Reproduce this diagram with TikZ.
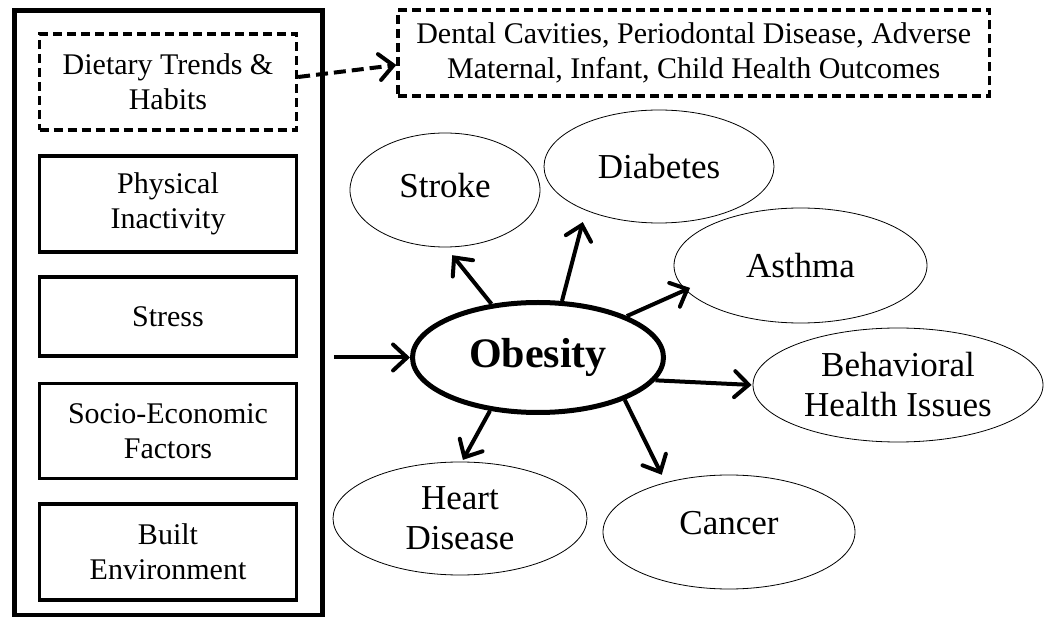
\documentclass[tikz,border=0pt]{standalone}
\usepackage{fontspec}
\setmainfont{Liberation Serif}
\usetikzlibrary{arrows.meta,shapes.geometric}
\begin{document}
\begin{tikzpicture}[x=1pt,y=-1pt,
  leftbox/.style={draw, line width=3.3pt, minimum width=257pt, inner sep=0pt, align=center, font=\fontsize{30}{35}\selectfont},
  dashbox/.style={leftbox, dash pattern=on 9pt off 5pt},
  outcome/.style={draw, ellipse, line width=0.8pt, inner sep=0pt, align=center, font=\fontsize{35}{40}\selectfont},
  arr/.style={line width=4pt, -{Straight Barb[length=14pt,width=26pt,line cap=round]}},
]
\useasboundingbox (0,0) rectangle (1050,617);

% left panel
\node[draw, line width=4.5pt, minimum width=308pt, minimum height=604.5pt, inner sep=0pt] (outer) at (168.6,312.75) {};
\node[dashbox, minimum height=96pt] (diet) at (168,82) {Dietary Trends \&\\Habits};
\node[leftbox, minimum height=96pt] (phys) at (168,204) {Physical\\Inactivity};
\node[leftbox, minimum height=79pt] (stress) at (168,316.5) {Stress};
\node[leftbox, minimum height=95.4pt] (socio) at (168,431) {Socio-Economic\\Factors};
\node[leftbox, minimum height=96pt] (built) at (168,552) {Built\\Environment};

% top box
\node[draw, line width=3.3pt, dash pattern=on 9pt off 5pt, minimum width=591.5pt, minimum height=86pt, inner sep=0pt, align=center, font=\fontsize{30}{35}\selectfont] (top) at (693.75,53) {Dental Cavities, Periodontal Disease, Adverse\\Maternal, Infant, Child Health Outcomes};

% center
\node[draw, ellipse, line width=5pt, minimum width=251pt, minimum height=110pt, inner sep=0pt, font=\fontsize{42}{48}\selectfont\bfseries] (ob) at (538,357.5) {Obesity};

% outcomes
\node[outcome, minimum width=190pt, minimum height=114pt, text depth=10pt] (stroke) at (445,190) {Stroke};
\node[outcome, minimum width=230pt, minimum height=113pt] (diab) at (659,166.5) {Diabetes};
\node[outcome, minimum width=253pt, minimum height=115pt] (asthma) at (800.5,265.5) {Asthma};
\node[outcome, minimum width=290pt, minimum height=114pt] (beh) at (898,385) {Behavioral\\Health Issues};
\node[outcome, minimum width=252pt, minimum height=114pt, text depth=19pt] (cancer) at (729,532) {Cancer};
\node[outcome, minimum width=254pt, minimum height=113pt] (heart) at (460,518.5) {Heart\\Disease};

% connectors
\draw[arr, dash pattern=on 12pt off 6pt] ([yshift=5pt]diet.east) -- ([yshift=-12pt]top.west);
\draw[arr, shorten <=9pt] (outer.east |- ob.west) -- (ob.west);
\draw[arr, shorten >=10pt] (ob.131) -- (stroke.-89);
\draw[arr, shorten >=12pt] (ob.67) -- (diab.-149);
\draw[arr, shorten >=-5pt] (ob.25.5) -- (asthma.-168);
\draw[arr, shorten >=1pt] (ob.-11.8) -- (beh.180);
\draw[arr, shorten >=8.5pt] (ob.-26.6) -- (cancer.142);
\draw[arr, shorten >=2pt] (ob.-132.3) -- (heart.88);
\end{tikzpicture}
\end{document}
